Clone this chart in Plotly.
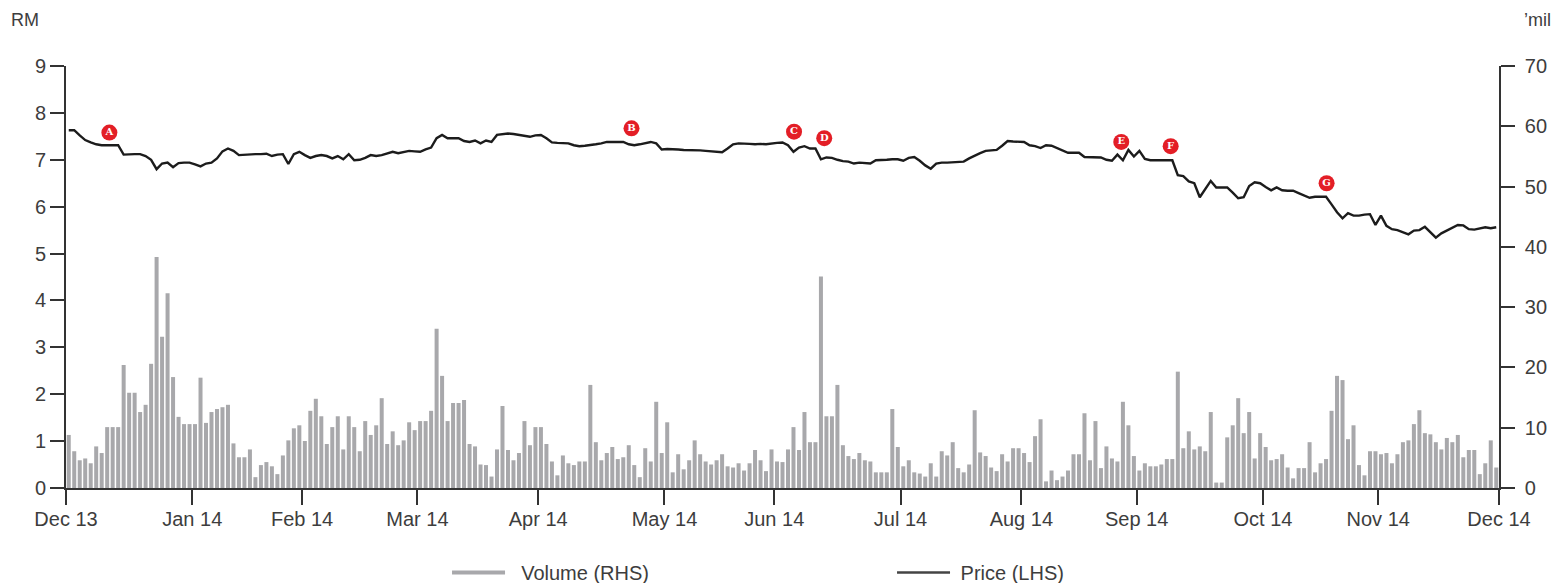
import plotly.graph_objects as go
import numpy as np

# ---------------- data ----------------
month_labels = ["Dec 13", "Jan 14", "Feb 14", "Mar 14", "Apr 14", "May 14", "Jun 14",
                "Jul 14", "Aug 14", "Sep 14", "Oct 14", "Nov 14", "Dec 14"]
trading_days_per_month = [23, 20, 21, 22, 23, 20, 23, 22, 21, 23, 21, 22]

vol_dec = [8.8, 6.1, 4.6, 4.9, 4.1, 6.9, 5.8, 10.1, 10.1, 10.1, 20.4, 15.8, 15.8, 12.6, 13.8, 20.6, 38.3, 25.1, 32.3, 18.4, 11.8, 10.6, 10.6]
vol_jan = [10.6, 18.3, 10.8, 12.6, 13.1, 13.4, 13.8, 7.4, 5.1, 5.1, 6.4, 1.8, 3.8, 4.3, 3.6, 2.3, 5.4, 7.9, 9.9, 10.4]
vol_feb = [7.8, 12.8, 14.8, 11.9, 7.3, 10.1, 11.9, 6.4, 11.9, 10.1, 6.1, 11.1, 8.8, 10.4, 14.9, 7.3, 9.4, 7.1, 7.9, 10.9, 9.6]
vol_mar = [11.1, 11.1, 12.8, 26.4, 18.6, 11.1, 14.1, 14.1, 14.6, 7.3, 6.9, 3.9, 3.8, 1.9, 6.4, 13.6, 6.3, 4.6, 5.8, 11.1, 7.1, 10.1]
vol_apr = [10.1, 7.3, 4.4, 2.1, 5.4, 4.1, 3.8, 4.4, 4.4, 17.1, 7.6, 4.6, 5.8, 6.8, 4.8, 5.1, 7.1, 3.8, 1.8, 6.6, 4.4, 14.3, 5.8]
vol_may = [10.9, 2.6, 5.6, 3.1, 4.6, 7.9, 5.6, 4.4, 3.9, 4.6, 5.6, 3.6, 3.4, 4.1, 2.9, 4.1, 6.3, 4.6, 2.8, 6.4]
vol_jun = [4.4, 4.3, 6.4, 10.1, 6.3, 12.6, 7.6, 7.6, 35.1, 11.9, 11.9, 17.1, 7.1, 5.3, 4.8, 5.8, 4.6, 4.4, 2.6, 2.6, 2.6, 13.1, 6.8]
vol_jul = [3.6, 4.6, 2.6, 2.4, 1.9, 4.1, 1.9, 6.1, 5.4, 7.6, 3.3, 2.6, 3.9, 12.9, 5.9, 5.3, 3.4, 2.8, 5.6, 4.4, 6.6, 6.6]
vol_aug = [5.8, 4.3, 8.6, 11.4, 1.1, 2.9, 1.3, 1.9, 2.9, 5.6, 5.6, 12.4, 4.6, 11.1, 3.3, 6.9, 4.9, 4.4, 14.3, 10.4, 5.3]
vol_sep = [2.9, 4.1, 3.6, 3.6, 3.9, 4.8, 4.8, 19.3, 6.6, 9.4, 6.4, 6.9, 6.1, 12.6, 0.9, 0.9, 8.4, 10.4, 14.9, 9.1, 12.6, 4.9, 9.1]
vol_oct = [6.8, 4.6, 4.8, 5.6, 3.4, 1.6, 3.3, 3.3, 7.6, 2.6, 4.1, 4.8, 12.8, 18.6, 17.9, 8.1, 10.4, 3.8, 2.1, 6.1, 6.1]
vol_nov = [5.6, 5.8, 4.1, 5.6, 7.6, 7.9, 10.6, 12.9, 9.1, 8.9, 7.6, 6.4, 8.3, 7.6, 8.8, 5.1, 6.3, 6.3, 2.3, 4.1, 7.9, 3.4]

px_dec = [7.63, 7.63, 7.52, 7.42, 7.37, 7.33, 7.31, 7.31, 7.31, 7.31, 7.11, 7.12, 7.12, 7.12, 7.08, 7.00, 6.80, 6.92, 6.94, 6.84, 6.93, 6.94, 6.94]
px_jan = [6.90, 6.86, 6.92, 6.94, 7.03, 7.18, 7.24, 7.19, 7.10, 7.11, 7.11, 7.12, 7.12, 7.13, 7.08, 7.11, 7.12, 6.91, 7.12, 7.17]
px_feb = [7.10, 7.04, 7.08, 7.10, 7.08, 7.03, 7.08, 7.01, 7.12, 6.99, 7.00, 7.04, 7.10, 7.08, 7.10, 7.14, 7.17, 7.14, 7.17, 7.19, 7.18]
px_mar = [7.17, 7.22, 7.26, 7.46, 7.53, 7.46, 7.46, 7.46, 7.40, 7.38, 7.41, 7.35, 7.41, 7.38, 7.53, 7.55, 7.56, 7.55, 7.53, 7.51, 7.49, 7.52]
px_apr = [7.53, 7.46, 7.37, 7.36, 7.35, 7.35, 7.31, 7.29, 7.30, 7.31, 7.33, 7.35, 7.38, 7.38, 7.38, 7.38, 7.33, 7.31, 7.33, 7.36, 7.38, 7.35, 7.22]
px_may = [7.23, 7.23, 7.22, 7.21, 7.21, 7.21, 7.20, 7.19, 7.18, 7.17, 7.16, 7.24, 7.33, 7.35, 7.35, 7.34, 7.33, 7.34, 7.33, 7.35]
px_jun = [7.36, 7.37, 7.31, 7.17, 7.26, 7.29, 7.24, 7.24, 7.01, 7.05, 7.04, 7.00, 6.97, 6.96, 6.92, 6.94, 6.93, 6.92, 6.99, 6.99, 7.00, 7.01, 7.01]
px_jul = [6.98, 7.04, 7.06, 6.98, 6.88, 6.81, 6.92, 6.94, 6.94, 6.95, 6.96, 6.96, 7.03, 7.09, 7.14, 7.19, 7.20, 7.21, 7.30, 7.40, 7.39, 7.39]
px_aug = [7.38, 7.31, 7.29, 7.25, 7.31, 7.30, 7.25, 7.19, 7.15, 7.15, 7.15, 7.06, 7.06, 7.06, 7.05, 7.00, 6.98, 7.11, 6.99, 7.21, 7.07]
px_sep = [7.19, 7.02, 6.99, 6.99, 6.99, 6.99, 6.99, 6.67, 6.65, 6.54, 6.50, 6.20, 6.38, 6.55, 6.41, 6.41, 6.41, 6.30, 6.18, 6.20, 6.44, 6.52, 6.50]
px_oct = [6.42, 6.35, 6.41, 6.35, 6.34, 6.34, 6.29, 6.24, 6.19, 6.21, 6.21, 6.21, 6.05, 5.88, 5.75, 5.86, 5.81, 5.81, 5.83, 5.84, 5.61]
px_nov = [5.81, 5.59, 5.52, 5.50, 5.46, 5.41, 5.49, 5.50, 5.57, 5.45, 5.34, 5.43, 5.49, 5.55, 5.61, 5.60, 5.52, 5.51, 5.53, 5.56, 5.54, 5.56]

event_labels = ["A", "B", "C", "D", "E", "F", "G"]
event_day = [7.4, 102.5, 132.1, 137.6, 191.7, 200.7, 229.1]
event_level = [7.58, 7.67, 7.60, 7.46, 7.38, 7.29, 6.50]

# ---------------- assemble ----------------
volume = (vol_dec + vol_jan + vol_feb + vol_mar + vol_apr + vol_may + vol_jun
          + vol_jul + vol_aug + vol_sep + vol_oct + vol_nov)
price = (px_dec + px_jan + px_feb + px_mar + px_apr + px_may + px_jun
         + px_jul + px_aug + px_sep + px_oct + px_nov)
day = list(range(len(volume)))
month_edges = [float(e) - 0.5 for e in np.concatenate([[0], np.cumsum(trading_days_per_month)])]

FONT = "Liberation Sans"
TXT = "#3d3d3d"
AX = "#333333"
NB = "\u00a0"

fig = go.Figure()
fig.add_trace(go.Bar(x=day, y=volume, yaxis="y2", marker=dict(color="#a8a8ab", line=dict(width=0)),
                     showlegend=False, hoverinfo="skip"))
fig.add_trace(go.Scatter(x=day, y=price, yaxis="y", mode="lines",
                         line=dict(color="#1c1c1c", width=2.4), showlegend=False))
fig.add_trace(go.Scatter(x=event_day, y=event_level, yaxis="y", mode="markers+text",
                         text=event_labels, textposition="middle center",
                         textfont=dict(family="DejaVu Serif", size=10, color="white", weight="bold"),
                         marker=dict(size=16, color="#e31e26"), showlegend=False))
# legend entries
fig.add_trace(go.Scatter(x=[None], y=[None], mode="lines", name=NB + NB + "Volume (RHS)",
                         line=dict(color="#a8a8ab", width=4)))
fig.add_trace(go.Scatter(x=[None], y=[None], mode="lines", name=NB + "Price (LHS)",
                         line=dict(color="#444444", width=2.5)))

fig.update_layout(
    width=1555, height=583,
    margin=dict(l=66, r=56, t=66, b=95, autoexpand=False),
    paper_bgcolor="white", plot_bgcolor="white",
    bargap=0.27,
    font=dict(family=FONT, size=20, color=TXT),
    xaxis=dict(range=[-0.5, len(day) - 0.5], tickvals=month_edges, ticktext=month_labels,
               showgrid=False, zeroline=False, showline=True, linecolor=AX, linewidth=1.6,
               ticks="outside", ticklen=15, tickwidth=1.6, tickcolor=AX, ticklabelstandoff=-3,
               tickfont=dict(family=FONT, size=20, color=TXT)),
    yaxis=dict(range=[0, 9], dtick=1, showgrid=False, zeroline=False, showline=True,
               linecolor=AX, linewidth=1.6, ticks="outside", ticklen=14, tickwidth=1.6,
               tickcolor=AX, tickfont=dict(family=FONT, size=20, color=TXT)),
    yaxis2=dict(range=[0, 70], dtick=10, overlaying="y", side="right", showgrid=False,
                zeroline=False, showline=True, linecolor=AX, linewidth=1.6, ticks="outside",
                ticklen=14, tickwidth=1.6, tickcolor=AX, ticklabelstandoff=6,
                tickfont=dict(family=FONT, size=20, color=TXT)),
    legend=dict(orientation="h", x=0.2659, xanchor="left", y=-0.2, yanchor="middle",
                entrywidth=377, entrywidthmode="pixels", itemwidth=53,
                font=dict(family=FONT, size=20, color=TXT), bgcolor="rgba(0,0,0,0)"),
    annotations=[
        dict(text="RM", xref="paper", yref="paper", x=-0.0286, y=1.109, showarrow=False,
             xanchor="center", yanchor="middle", font=dict(family=FONT, size=18, color=TXT)),
        dict(text="\u2019mil", xref="paper", yref="paper", x=1.0272, y=1.109, showarrow=False,
             xanchor="center", yanchor="middle", font=dict(family=FONT, size=18, color=TXT)),
    ],
)

fig.write_html("out.html", config={"displayModeBar": False},
               post_script="document.body.style.margin='0';document.body.style.overflow='hidden';")
